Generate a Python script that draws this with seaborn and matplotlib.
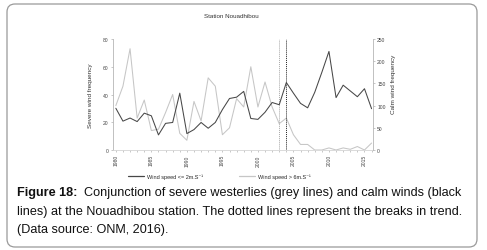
import matplotlib
matplotlib.use("Agg")
import matplotlib.pyplot as plt
from matplotlib.patches import FancyBboxPatch
from matplotlib.transforms import IdentityTransform
from matplotlib.lines import Line2D
import seaborn as sns
import pandas as pd

# ---- data ----
years = list(range(1980, 2017))
severe_freq = [32, 46, 73, 23, 36, 14, 15, 27, 40, 12, 7, 35, 21, 52, 46, 11, 16, 37, 31, 60,
               31, 49, 31, 19, 23, 11, 4, 4, 0, 0, 1.5, 0, 1.5, 0.5, 2.5, 0, 5]
calm_freq = [94, 65, 72, 64, 83, 77, 34, 60, 62, 128, 37, 46, 62, 49, 62, 91, 116, 119, 132, 71,
             69, 85, 107, 102, 152, 128, 105, 95, 130, 175, 222, 118, 146, 133, 120, 138, 93]
tick_years = [1980, 1985, 1990, 1995, 2000, 2005, 2010, 2015]
left_ticks = [0, 20, 40, 60, 80]
right_ticks = [0, 50, 100, 150, 200, 250]
break_severe = 2003
break_calm = 2004
label_calm = "Wind speed <= 2m.S\u207b\u00b9"
label_severe = "Wind speed > 6m.S\u207b\u00b9"

df = pd.DataFrame({"year": years, "severe": severe_freq, "calm": calm_freq})

sns.set_theme(style="ticks")
plt.rcParams["font.family"] = ["Liberation Sans", "DejaVu Sans"]

W, H = 487, 251
fig = plt.figure(figsize=(W / 100, H / 100), dpi=100)
fig.patch.set_facecolor("white")

# rounded border
box = FancyBboxPatch((7, 3), 470, 243, boxstyle="round,pad=0,rounding_size=8",
                     transform=IdentityTransform(), facecolor="none",
                     edgecolor="#9a9a9a", linewidth=0.9)
fig.patches.append(box)

ax = fig.add_axes([113 / W, 1 - 151 / H, 260 / W, 111 / H])
ax2 = ax.twinx()

grey_c = "#c6c6c6"
black_c = "#474747"
sns.lineplot(data=df, x="year", y="severe", ax=ax, color=grey_c, lw=0.75, legend=False)
sns.lineplot(data=df, x="year", y="calm", ax=ax2, color=black_c, lw=0.75, legend=False)

ax.axvline(break_severe, color="#a8a8a8", ls=(0, (1, 1)), lw=0.7)
ax.axvline(break_calm, color="#222222", ls=(0, (1, 1)), lw=0.7)

ax.set_xlim(1979.6, 2016.2)
ax.set_ylim(0, 80)
ax2.set_ylim(0, 250)
ax.set_xticks(tick_years)
ax.set_xticklabels([str(y) for y in tick_years], rotation=90)
ax.set_xticks(years, minor=True)
ax.set_yticks(left_ticks)
ax.set_yticklabels([str(v) for v in left_ticks])
ax2.set_yticks(right_ticks)
ax2.set_yticklabels([str(v) for v in right_ticks])

for a in (ax, ax2):
    for s in a.spines.values():
        s.set_visible(False)
ax.spines["left"].set_visible(True)
ax.spines["bottom"].set_visible(True)
ax2.spines["right"].set_visible(True)
for s in (ax.spines["left"], ax.spines["bottom"], ax2.spines["right"]):
    s.set_color("#b5b5b5")
    s.set_linewidth(0.6)
ax.spines["bottom"].set_color("#d5d5d5")

tick_kw = dict(length=1.5, width=0.5, color="#b0b0b0", labelsize=3.6,
               labelcolor="#444444", pad=1.5)
ax.tick_params(axis="x", which="both", **tick_kw)
ax.tick_params(axis="y", **tick_kw)
ax2.tick_params(axis="y", **tick_kw)

ax.set_xlabel("")
ax.set_ylabel("Severe wind frequency", fontsize=4.6, color="#333333")
ax2.set_ylabel("Calm wind frequency", fontsize=4.6, color="#333333")
ax.yaxis.set_label_coords(-0.077, 0.5)
ax2.yaxis.set_label_coords(1.068, 0.6)

fig.text(231 / W, 1 - 17 / H, "Station Nouadhibou", fontsize=4.5, color="#333333",
         ha="center", va="center")

handles = [Line2D([], [], color=black_c, lw=0.9), Line2D([], [], color=grey_c, lw=0.9)]
fig.legend(handles, [label_calm, label_severe], loc="center",
           bbox_to_anchor=(219 / W, 1 - 177 / H), ncol=2, frameon=False,
           fontsize=4, handlelength=3.0, handletextpad=0.4, columnspacing=6.5)

# caption
cap_fs = 9.1
t1 = fig.text(17 / W, 1 - 196.5 / H, "Figure 18:", fontsize=cap_fs, fontweight="bold",
              va="baseline", ha="left", color="#111111")
ax.annotate("  Conjunction of severe westerlies (grey lines) and calm winds (black",
            xy=(1, 0), xycoords=t1, va="bottom", ha="left", fontsize=cap_fs,
            color="#111111", annotation_clip=False)
fig.text(17 / W, 1 - 215 / H,
         "lines) at the Nouadhibou station. The dotted lines represent the breaks in trend.",
         fontsize=cap_fs, va="baseline", ha="left", color="#111111")
fig.text(17 / W, 1 - 233.3 / H, "(Data source: ONM, 2016).",
         fontsize=cap_fs, va="baseline", ha="left", color="#111111")

fig.savefig("out.png", dpi=100, facecolor="white")
